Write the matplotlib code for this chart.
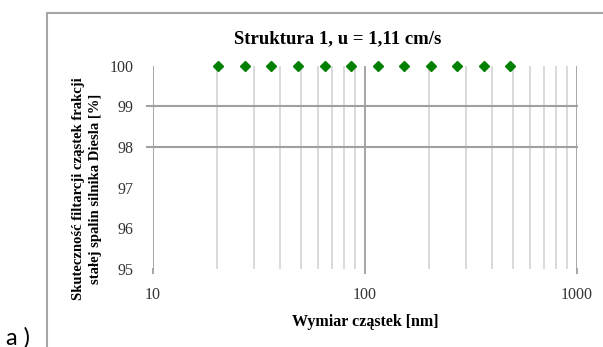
import matplotlib
matplotlib.use("Agg")
import matplotlib.pyplot as plt
from matplotlib.lines import Line2D

# data
size_nm = [20.4, 27.2, 36.3, 48.4, 64.9, 86.0, 115.3, 153.0, 204.5, 272.0, 365.0, 485.0]
efficiency = [100, 100, 100, 100, 100, 100, 100, 100, 100, 100, 100, 100]
y_ticks = [95, 96, 97, 98, 99, 100]
y_grid = [98, 99]
x_major = [10, 100, 1000]
x_minor = [20, 30, 40, 50, 60, 70, 80, 90, 200, 300, 400, 500, 600, 700, 800, 900]

title = "Struktura 1, u = 1,11 cm/s"
xlabel = "Wymiar cząstek [nm]"
ylabel = "Skuteczność filtarcji cząstek frakcji\nstałej spalin silnika Diesla [%]"

plt.rcParams['font.family'] = ['Liberation Serif', 'DejaVu Serif']

fig = plt.figure(figsize=(6.03, 3.47), dpi=100)
W, H = 603, 347
ax = fig.add_axes([152.7 / W, 1 - 269 / H, (576.9 - 152.7) / W, (269 - 65.7) / H])

ax.set_xscale('log')
ax.set_xlim(10, 1000)
ax.set_ylim(95, 100)
for s in ax.spines.values():
    s.set_visible(False)

# vertical grid
ax.vlines(x_minor, 95, 100, colors='#d9d9d9', lw=1.4, zorder=1)
ax.vlines(x_major, 95, 100, colors='#a6a6a6', lw=1.4, zorder=1)
# major ticks extend below
for xv in x_major:
    ax.plot([xv, xv], [95, 94.9], color='#a6a6a6', lw=1.4, clip_on=False)

# only two horizontal grid lines
ytr = ax.get_yaxis_transform()
for yv in y_grid:
    ax.plot([-0.013, 1], [yv, yv], color='#a0a0a0', lw=1.5, transform=ytr,
            clip_on=False, zorder=1)

ax.plot(size_nm, efficiency, linestyle='none', marker='D', ms=5.5,
        color='#008000', clip_on=False, zorder=3)

ax.set_xticks(x_major)
ax.set_xticklabels([str(v) for v in x_major])
ax.set_xticks([], minor=True)
ax.set_yticks(y_ticks)
ax.set_yticklabels([str(v) for v in y_ticks])
ax.tick_params(axis='both', length=0, labelsize=11.5, colors='#333333')
ax.tick_params(axis='x', pad=13)
ax.tick_params(axis='y', pad=14)

fig.text(338 / W, 1 - 39 / H, title, ha='center', va='center',
         fontsize=13.5, fontweight='bold')
fig.text(365 / W, 1 - 322 / H, xlabel, ha='center', va='center',
         fontsize=11.5, fontweight='bold')
fig.text(87 / W, 1 - 189 / H, ylabel, ha='center', va='center', rotation=90,
         fontsize=10.5, fontweight='bold', multialignment='center',
         linespacing=1.45)

# outer chart frame (partially visible)
fig.add_artist(Line2D([46.7 / W, 46.7 / W], [0, 1 - 12.5 / H],
                      transform=fig.transFigure, color='#a6a6a6', lw=1.5))
fig.add_artist(Line2D([46.7 / W, 1], [1 - 12.5 / H, 1 - 12.5 / H],
                      transform=fig.transFigure, color='#a6a6a6', lw=1.5))

fig.text(6 / W, 1 - 327 / H, "a )", ha='left', va='top', fontsize=17,
         family='Lato')

fig.savefig('out.png', dpi=100)
